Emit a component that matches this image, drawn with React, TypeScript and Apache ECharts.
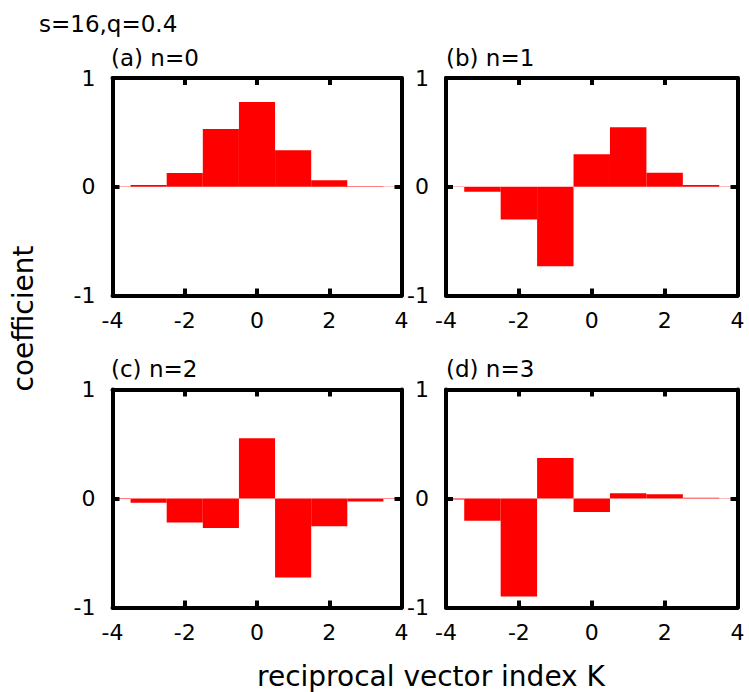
import React, { useEffect, useRef } from "react";
import * as echarts from "echarts";

// ---- data ----
const K_VALUES = [-4, -3, -2, -1, 0, 1, 2, 3, 4];
const COEF_N0 = [0.003, 0.016, 0.126, 0.53, 0.78, 0.335, 0.059, 0.004, 0.002];
const COEF_N1 = [-0.003, -0.046, -0.3, -0.73, 0.3, 0.546, 0.129, 0.015, 0.003];
const COEF_N2 = [-0.005, -0.04, -0.22, -0.27, 0.553, -0.725, -0.254, -0.028, -0.004];
const COEF_N3 = [-0.01, -0.205, -0.9, 0.372, -0.123, 0.049, 0.04, 0.006, 0.002];
const PANEL_TITLES = ["(a) n=0", "(b) n=1", "(c) n=2", "(d) n=3"];
const X_TICKS = [-4, -2, 0, 2, 4];
const Y_TICKS = [-1, 0, 1];
const MAIN_TITLE = "s=16,q=0.4";
const Y_NAME = "coefficient";
const X_NAME = "reciprocal vector index K";

const FONT = "DejaVu Sans";

export default function App() {
  const ref = useRef<HTMLDivElement>(null);

  useEffect(() => {
    document.body.style.margin = "0";
    if (!ref.current) return;
    const chart = echarts.init(ref.current, null, { renderer: "svg" });

    const seriesData = [COEF_N0, COEF_N1, COEF_N2, COEF_N3];
    const grids = [
      { left: 112.5, top: 78, width: 289, height: 217.5 },
      { left: 446, top: 78, width: 291.5, height: 217.5 },
      { left: 112.5, top: 389.5, width: 289, height: 218 },
      { left: 446, top: 389.5, width: 291.5, height: 218 },
    ];

    const xMin = X_TICKS[0];
    const xMax = X_TICKS[X_TICKS.length - 1];
    const xInt = X_TICKS[1] - X_TICKS[0];
    const yMin = Y_TICKS[0];
    const yMax = Y_TICKS[Y_TICKS.length - 1];
    const yInt = Y_TICKS[1] - Y_TICKS[0];

    const tickStyle = { show: true, inside: true, length: 7, lineStyle: { color: "#000", width: 4 } };
    const labelStyle = { color: "#000", fontSize: 22, fontFamily: FONT };
    const axisLineStyle = { show: true, onZero: false, lineStyle: { color: "#000", width: 4 } };

    const xAxis: any[] = [];
    const yAxis: any[] = [];
    const series: any[] = [];

    grids.forEach((_, g) => {
      xAxis.push({
        type: "value", gridIndex: g, position: "bottom", min: xMin, max: xMax, interval: xInt, z: 5,
        axisLine: axisLineStyle, splitLine: { show: false }, axisTick: tickStyle,
        axisLabel: { ...labelStyle, margin: 14, showMinLabel: true, showMaxLabel: true },
      });
      xAxis.push({
        type: "value", gridIndex: g, position: "top", min: xMin, max: xMax, interval: xInt, z: 5,
        axisLine: axisLineStyle, splitLine: { show: false }, axisTick: tickStyle,
        axisLabel: { show: false },
      });
      yAxis.push({
        type: "value", gridIndex: g, position: "left", min: yMin, max: yMax, interval: yInt, z: 5,
        axisLine: axisLineStyle, splitLine: { show: false }, axisTick: tickStyle,
        axisLabel: { ...labelStyle, margin: 17, showMinLabel: true, showMaxLabel: true },
      });
      yAxis.push({
        type: "value", gridIndex: g, position: "right", min: yMin, max: yMax, interval: yInt, z: 5,
        axisLine: axisLineStyle, splitLine: { show: false }, axisTick: tickStyle,
        axisLabel: { show: false },
      });
      series.push({
        type: "custom",
        xAxisIndex: 2 * g,
        yAxisIndex: 2 * g,
        z: 1,
        data: K_VALUES.map((k, i) => [k, seriesData[g][i]]),
        encode: { x: 0, y: 1 },
        renderItem: (params: any, api: any) => {
          const k = api.value(0);
          const v = api.value(1);
          const p1 = api.coord([k - 0.5, v]);
          const p2 = api.coord([k + 0.5, 0]);
          const rect = {
            x: Math.min(p1[0], p2[0]),
            y: Math.min(p1[1], p2[1]),
            width: Math.abs(p2[0] - p1[0]),
            height: Math.max(Math.abs(p2[1] - p1[1]), 0.0001),
          };
          const cs = params.coordSys;
          const clipped = echarts.graphic.clipRectByRect(rect, {
            x: cs.x, y: cs.y, width: cs.width, height: cs.height,
          });
          if (!clipped) return null;
          return { type: "rect", shape: clipped, style: { fill: "#ff0000" } };
        },
      });
    });

    const titlePos = [
      [111, 58], [446, 58], [111, 368.5], [446, 368.5],
    ];

    const graphic: any[] = [
      {
        type: "text", x: 39, y: 24,
        style: { text: MAIN_TITLE, fontSize: 23, fontFamily: FONT, fill: "#000", align: "left", verticalAlign: "middle" },
      },
      ...PANEL_TITLES.map((t, i) => ({
        type: "text", x: titlePos[i][0], y: titlePos[i][1],
        style: { text: t, fontSize: 23, fontFamily: FONT, fill: "#000", align: "left", verticalAlign: "middle" },
      })),
      {
        type: "text", x: 23.5, y: 318.5, rotation: Math.PI / 2,
        style: { text: Y_NAME, fontSize: 28, fontFamily: FONT, fill: "#000", align: "center", verticalAlign: "middle" },
      },
      {
        type: "text", x: 431, y: 676,
        style: { text: X_NAME, fontSize: 28, fontFamily: FONT, fill: "#000", align: "center", verticalAlign: "middle" },
      },
    ];

    chart.setOption({
      animation: false,
      backgroundColor: "#fff",
      grid: grids.map((g) => ({ ...g, show: false })),
      xAxis,
      yAxis,
      series,
      graphic,
    });

    return () => chart.dispose();
  }, []);

  return (
    <div
      ref={ref}
      style={{ position: "absolute", left: 0, top: 0, width: 749, height: 692 }}
    />
  );
}
